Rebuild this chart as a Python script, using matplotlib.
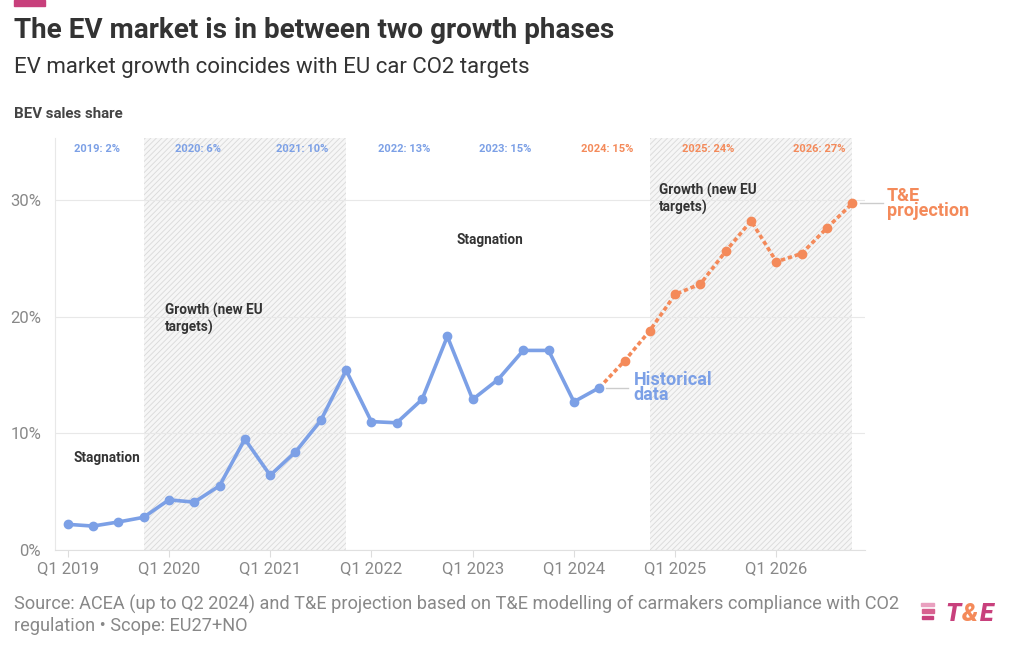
import matplotlib.pyplot as plt
import matplotlib.patches as mpatches
import numpy as np

plt.rcParams['font.family'] = ['Roboto', 'DejaVu Sans']
plt.rcParams['hatch.linewidth'] = 0.6
plt.rcParams['hatch.color'] = '#d9d9d9'

# quarterly BEV sales share (%), Q1 2019 .. Q2 2024
historical = [2.2, 2.05, 2.4, 2.8, 4.3, 4.1, 5.5, 9.5, 6.4, 8.4, 11.1, 15.4,
              11.0, 10.9, 12.9, 18.3, 12.9, 14.6, 17.1, 17.1, 12.7, 13.9]
# T&E projection, Q2 2024 (joins history) .. Q4 2026
projection = [13.9, 16.2, 18.8, 21.9, 22.8, 25.6, 28.2, 24.7, 25.4, 27.6, 29.7]

years = [2019, 2020, 2021, 2022, 2023, 2024, 2025, 2026]
year_shares = [2, 6, 10, 13, 15, 15, 24, 27]
tick_labels = ['Q1 %d' % y for y in years]

phases = [('Stagnation', 0.25, 8.45),
          ('Growth (new EU\ntargets)', 3.85, 21.2),
          ('Stagnation', 15.35, 27.2),
          ('Growth (new EU\ntargets)', 23.35, 31.45)]
growth_spans = [(3, 11), (23, 31)]

BLUE = '#7ca0e6'
ORANGE = '#f48a5a'
PINK = '#c8407c'
DARK = '#333333'
GREY = '#888888'

fig = plt.figure(figsize=(10.2, 6.5), dpi=100)
ax = fig.add_axes([55 / 1020, 100 / 650, 810 / 1020, 412 / 650])

for a, b in growth_spans:
    ax.axvspan(a, b, facecolor='#f6f6f6', hatch='//////', edgecolor='#d9d9d9',
               linewidth=0, zorder=0)

x_hist = np.arange(len(historical))
x_proj = np.arange(len(historical) - 1, len(historical) - 1 + len(projection))

ax.plot(x_hist, historical, color=BLUE, lw=2.6, marker='o', ms=6, zorder=3)
ax.plot(x_proj[1:], projection[1:], color=ORANGE, lw=0, marker='o', ms=6, zorder=3)
ax.plot(x_proj, projection, color=ORANGE, lw=2.6, ls=(0, (1.2, 0.8)), zorder=2)

ax.set_xlim(-0.5, 31.5)
ax.set_ylim(0, 35.3)
ax.set_yticks([0, 10, 20, 30])
ax.set_yticklabels(['0%', '10%', '20%', '30%'])
ax.set_xticks([4 * i for i in range(len(years))])
ax.set_xticklabels(tick_labels)
ax.grid(axis='y', color='#e8e8e8', lw=0.8)
ax.set_axisbelow(True)
for s in ['top', 'right']:
    ax.spines[s].set_visible(False)
ax.spines['left'].set_color('#e8e8e8')
ax.spines['bottom'].set_color('#e0e0e0')
ax.tick_params(axis='y', length=0, pad=10, labelsize=12, labelcolor=GREY)
ax.tick_params(axis='x', length=5, color='#dddddd', pad=3, labelsize=12,
               labelcolor=GREY)

# yearly share labels along the top
label_x = [1.15, 5.15, 9.25, 13.3, 17.3, 21.3, 25.3, 29.7]
for i, (yr, sh) in enumerate(zip(years, year_shares)):
    c = BLUE if yr <= 2023 else ORANGE
    ax.text(label_x[i], 34.4, '%d: %d%%' % (yr, sh), color=c, fontsize=8,
            fontweight='bold', ha='center', va='center')

for txt, x, y in phases:
    ax.text(x, y, txt, color=DARK, fontsize=9.8, fontweight='bold',
            ha='left', va='top', linespacing=1.2)

# series end labels
xh = x_hist[-1]
ax.plot([xh + 0.25, xh + 1.15], [historical[-1], historical[-1]], color='#cccccc',
        lw=1, clip_on=False)
ax.text(xh + 1.35, historical[-1], 'Historical\ndata', color=BLUE, fontsize=13,
        fontweight='bold', ha='left', va='center', linespacing=0.8)
xp = x_proj[-1]
ax.plot([xp + 0.3, xp + 1.2], [projection[-1], projection[-1]], color='#cccccc',
        lw=1, clip_on=False)
ax.text(xp + 1.35, projection[-1], 'T&E\nprojection', color=ORANGE, fontsize=13,
        fontweight='bold', ha='left', va='center', linespacing=0.8,
        clip_on=False)

# header
fig.patches.append(mpatches.Rectangle((14 / 1020, 644 / 650), 31 / 1020, 6 / 650,
                                      transform=fig.transFigure, color=PINK))
fig.text(14 / 1020, 1 - 31 / 650, 'The EV market is in between two growth phases',
         fontsize=20.1, fontweight='bold', color=DARK, va='center')
fig.text(14 / 1020, 1 - 67 / 650, 'EV market growth coincides with EU car CO2 targets',
         fontsize=16, color=DARK, va='center')
fig.text(14 / 1020, 1 - 114 / 650, 'BEV sales share', fontsize=10.8,
         fontweight='bold', color='#444444', va='center')

# footer
fig.text(14 / 1020, 1 - 615 / 650,
         'Source: ACEA (up to Q2 2024) and T&E projection based on T&E modelling of '
         'carmakers compliance with CO2\nregulation \u2022 Scope: EU27+NO',
         fontsize=13.1, color=GREY, va='center', linespacing=1.2)

# logo
for i, c in enumerate(['#e9a0bf', '#d7608f', PINK]):
    fig.patches.append(mpatches.Rectangle(((921 + i * 0.7) / 1020, (1 - (606 + i * 6.5) / 650)),
                                          (13 - i) / 1020, 3.5 / 650,
                                          transform=fig.transFigure, color=c))
for letter, lx, c in [('T', 945, PINK), ('&', 962, ORANGE), ('E', 980, PINK)]:
    fig.text(lx / 1020, 1 - 614 / 650, letter, fontsize=18, fontweight='black',
             style='italic', color=c, va='center')

fig.savefig('out.png', dpi=100)
